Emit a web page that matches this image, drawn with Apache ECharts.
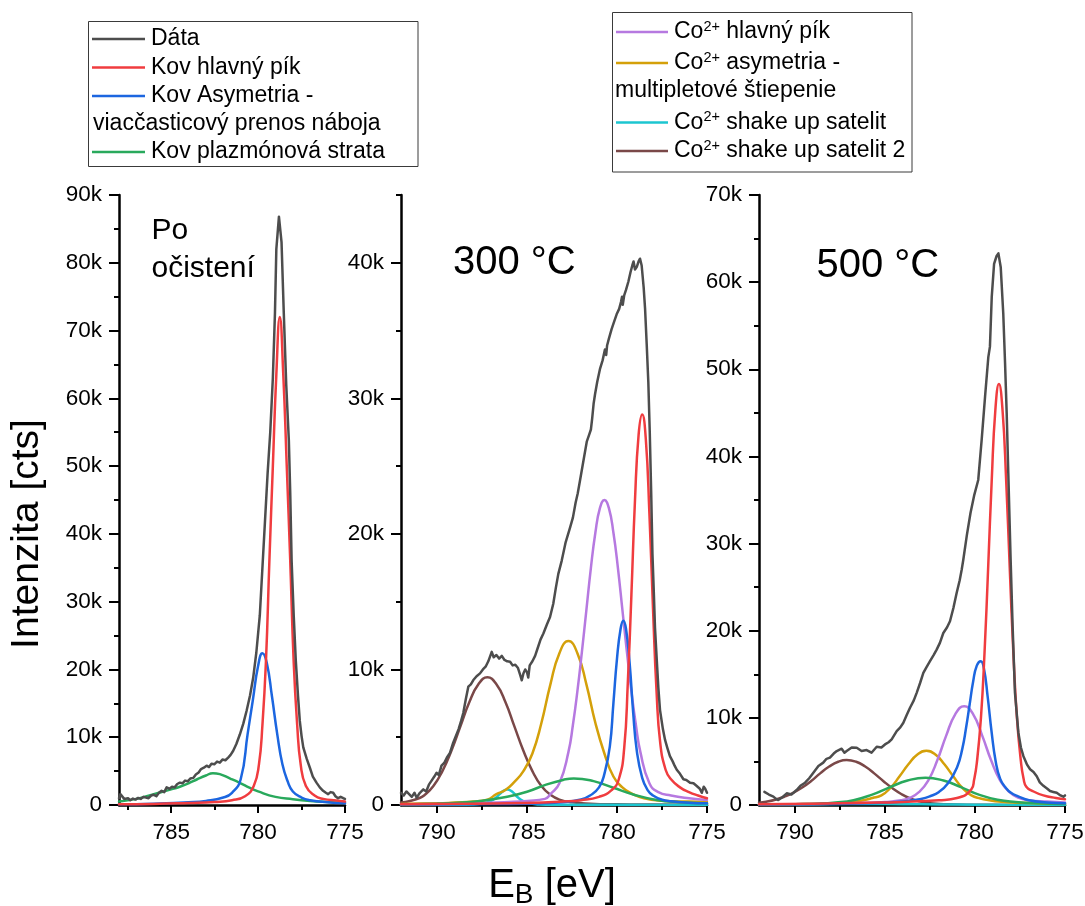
<!DOCTYPE html>
<html>
<head>
<meta charset="utf-8">
<script src="https://cdn.jsdelivr.net/npm/echarts@6/dist/echarts.min.js"></script>
<style>
  html, body { margin: 0; padding: 0; background: #ffffff; }
  #chart { width: 1085px; height: 906px; }
</style>
</head>
<body>
<div id="chart"></div>
<script>
// Co 2p3/2 XPS spectra: binding energy [eV] vs. intensity [kcts]
// Each series is a list of [E_B, intensity in thousands of counts].

// ---- Panel 1: "Po očistení" ----
const p1Data = [
  [788.0,1.0],[787.92,1.6],[787.82,1.4],[787.7,0.9],[787.6,0.75],[787.48,1.0],[787.35,0.7],[787.2,0.95],[787.05,0.8],
  [786.9,1.05],[786.75,0.9],[786.6,1.2],[786.45,1.1],[786.3,1.0],[786.15,1.4],[786.0,1.5],[785.85,1.3],[785.7,1.8],
  [785.55,2.1],[785.4,1.9],[785.26,2.6],[785.1,2.4],[784.95,2.7],[784.8,2.6],[784.65,3.1],[784.5,3.3],[784.35,3.2],
  [784.2,3.6],[784.05,3.5],[783.9,3.9],[783.73,4.0],[783.58,4.5],[783.42,4.8],[783.28,5.3],[783.12,5.5],[782.96,5.8],
  [782.82,5.6],[782.68,6.1],[782.52,6.0],[782.36,6.4],[782.2,6.25],[782.05,6.7],[781.88,6.6],[781.72,7.0],[781.58,7.4],
  [781.43,8.0],[781.25,9.0],[781.05,10.4],[780.85,12.0],[780.66,13.9],[780.46,16.2],[780.28,18.8],[780.1,22.5],
  [779.9,28],[779.75,35],[779.6,42],[779.45,49],[779.3,55],[779.15,63],[779.03,72.5],[778.95,82],[778.8,86.8],
  [778.65,83],[778.52,72.5],[778.38,62],[778.23,53.8],[778.15,46],[778.07,36],[777.95,28],[777.83,21.3],[777.7,16],
  [777.6,12.4],[777.5,10.2],[777.4,8.5],[777.2,6.8],[777.02,5.5],[776.85,4.2],[776.64,3.3],[776.45,2.6],[776.26,2.1],
  [776.1,1.8],[775.97,1.6],[775.83,1.9],[775.68,1.8],[775.55,1.3],[775.4,1.0],[775.25,1.2],[775.1,1.0],[775.0,0.9]
];
const p1MetalMain = [
  [788,0.1],[786,0.15],[784,0.3],[782.5,0.45],[781.5,0.7],[780.75,1.3],[780.25,2.8],[779.95,6],[779.75,11.8],
  [779.55,21],[779.35,36],[779.15,50],[778.95,63.5],[778.75,72],[778.55,63.5],[778.35,50],[778.15,36],[777.95,21],
  [777.75,11.8],[777.55,6],[777.25,2.8],[776.75,1.4],[776.25,0.9],[775.5,0.65],[775,0.5]
];
const p1MetalAsym = [
  [788,0.1],[786,0.2],[784,0.4],[783,0.6],[782,1.1],[781.5,1.8],[781,3.8],[780.6,10.5],[780.3,15.5],[780,20.5],
  [779.75,22.4],[779.5,21],[779.2,16],[778.9,10.5],[778.6,6],[778.3,3.5],[778,2],[777.5,1.1],[777,0.7],[776,0.4],[775,0.25]
];
const p1Plasmon = [
  [788,0.5],[787,0.9],[786,1.6],[785,2.3],[784.5,2.7],[784,3.2],[783.5,3.8],[783,4.35],[782.6,4.7],[782.2,4.55],
  [781.6,3.9],[781,3.2],[780.5,2.55],[780,2.0],[779,1.2],[778,0.85],[777,0.6],[776,0.45],[775,0.35]
];

// ---- Panel 2: 300 °C ----
const p2Data = [
  [792.0,0.9],[791.85,0.7],[791.7,1.0],[791.55,0.8],[791.4,0.6],[791.25,0.9],[791.13,0.54],[790.95,0.9],[790.76,1.15],
  [790.6,1.0],[790.45,1.5],[790.3,1.8],[790.15,2.1],[790.02,2.38],[789.9,2.2],[789.75,2.9],[789.6,3.1],[789.45,3.5],
  [789.28,3.84],[789.1,4.6],[788.95,5.1],[788.8,5.6],[788.66,6.2],[788.54,6.78],[788.4,7.8],[788.26,8.73],[788.12,8.9],
  [787.98,9.22],[787.8,9.5],[787.61,9.71],[787.45,10.0],[787.3,10.2],[787.15,10.6],[786.96,11.3],[786.85,10.9],
  [786.7,11.06],[786.55,10.8],[786.4,11.0],[786.25,10.7],[786.1,10.6],[785.94,10.57],[785.8,10.3],[785.65,10.35],
  [785.5,10.1],[785.38,9.6],[785.29,9.2],[785.2,9.7],[785.1,10.0],[785.0,9.8],[784.93,9.4],[784.85,10.3],[784.7,10.6],
  [784.55,11.0],[784.4,11.6],[784.25,12.2],[784.09,12.65],[783.9,13.3],[783.72,13.87],[783.54,14.85],[783.4,16.0],
  [783.26,17.05],[783.07,18.03],[782.85,19.4],[782.6,20.5],[782.45,21.2],[782.3,22.3],[782.18,23.0],[782.06,23.9],
  [781.85,25.5],[781.68,26.8],[781.55,27.3],[781.45,27.7],[781.38,28.5],[781.3,29.6],[781.22,30.3],[781.1,31.2],
  [780.94,32.2],[780.8,32.8],[780.67,33.6],[780.6,33.2],[780.55,33.9],[780.45,34.4],[780.3,35.1],[780.15,35.7],
  [780.02,36.2],[779.88,36.6],[779.78,37.1],[779.72,37.5],[779.68,36.9],[779.6,37.6],[779.5,38.0],[779.37,38.6],
  [779.25,39.3],[779.15,39.8],[779.08,40.1],[779.0,39.5],[778.9,39.7],[778.8,40.1],[778.72,40.3],[778.63,39.8],
  [778.52,38.2],[778.44,36.6],[778.35,34.0],[778.26,31.2],[778.18,27.5],[778.1,23.0],[778.03,18.5],[777.95,15.5],
  [777.89,13.1],[777.79,10.7],[777.7,8.6],[777.61,7.0],[777.45,5.6],[777.33,4.8],[777.2,4.2],[777.06,3.6],[776.9,3.2],
  [776.8,2.9],[776.68,2.6],[776.5,2.3],[776.31,1.9],[776.15,1.85],[775.94,1.64],[775.75,1.6],[775.57,1.4],[775.4,1.2],
  [775.29,0.9],[775.18,1.35],[775.1,1.2],[775.0,0.9]
];
const p2MetalMain = [
  [792,0.05],[788,0.1],[785,0.15],[783,0.25],[782,0.35],[781,0.6],[780.3,1.1],[779.9,1.9],[779.6,4.2],[779.4,9],
  [779.2,15.5],[779,22.5],[778.8,27.3],[778.6,28.8],[778.4,27],[778.2,21.5],[778,14.5],[777.8,8.3],[777.6,4.6],
  [777.3,2.6],[777,1.9],[776.5,1.3],[776,0.95],[775.5,0.7],[775,0.5]
];
const p2MetalAsym = [
  [792,0.03],[788,0.06],[785,0.1],[783,0.2],[782,0.4],[781.5,0.7],[781,1.3],[780.7,2.3],[780.4,4.3],[780.2,7.5],
  [780,10.8],[779.8,13],[779.65,13.6],[779.5,13],[779.3,10.5],[779.1,6.8],[778.9,4],[778.6,2],[778.3,1.1],[778,0.7],
  [777.5,0.4],[777,0.28],[776,0.17],[775,0.12]
];
const p2Plasmon = [
  [792,0.04],[790,0.1],[789,0.15],[787.6,0.3],[786.1,0.61],[785,0.98],[783.9,1.52],[783,1.85],[782.4,1.96],
  [781.3,1.76],[780.2,1.27],[779.1,0.78],[777.8,0.37],[776.5,0.2],[775,0.12]
];
const p2CoMain = [
  [792,0.05],[790,0.07],[788,0.12],[786,0.22],[785,0.3],[784,0.45],[783.7,0.8],[783.2,1.6],[782.7,3.9],[782.45,5.9],
  [782.2,8.4],[781.95,11.3],[781.7,14.4],[781.45,17.5],[781.2,20.1],[780.95,21.9],[780.7,22.5],[780.45,21.9],
  [780.2,20.1],[779.95,17.5],[779.7,14.4],[779.45,11.3],[779.2,8.4],[778.95,5.9],[778.7,3.9],[778.2,1.6],[777.7,0.95],
  [777,0.7],[776,0.5],[775,0.37]
];
const p2CoAsym = [
  [792,0.08],[790,0.12],[789,0.18],[788,0.25],[787.2,0.4],[786.7,0.8],[786.2,1.1],[785.7,1.7],[785.2,2.5],[784.7,3.8],
  [784.2,6.05],[783.7,8.9],[783.2,11.2],[782.7,12.1],[782.2,11.2],[781.7,8.9],[781.2,6.05],[780.7,3.8],[780.2,2.1],
  [779.7,1.3],[779.2,0.85],[778.5,0.5],[777.5,0.32],[776,0.25],[775,0.22]
];
const p2ShakeUp = [
  [792,0],[789,0.01],[788,0.03],[787.4,0.12],[787,0.3],[786.7,0.57],[786.4,0.95],[786.1,1.15],[785.8,0.95],[785.5,0.55],
  [785.2,0.28],[784.8,0.1],[784.3,0.04],[783.5,0.02],[780,0.01],[775,0]
];
const p2ShakeUp2 = [
  [792,0.18],[791.5,0.3],[791,0.5],[790.7,0.72],[790.2,1.4],[789.7,2.5],[789.2,4.0],[788.7,5.8],[788.2,7.6],[787.7,8.9],
  [787.2,9.42],[786.7,8.9],[786.2,7.6],[785.7,5.8],[785.2,4.0],[784.7,2.5],[784.2,1.4],[783.7,0.75],[783.2,0.4],
  [782.5,0.2],[781.5,0.1],[780,0.05],[778,0.03],[775,0.02]
];

// ---- Panel 3: 500 °C ----
const p3Data = [
  [791.7,1.5],[791.45,1.2],[791.2,0.96],[791.05,0.7],[790.93,0.57],[790.7,0.9],[790.46,1.34],[790.2,1.2],[789.91,1.72],
  [789.7,2.2],[789.44,2.56],[789.2,3.1],[788.98,3.71],[788.7,4.47],[788.43,4.86],[788.25,5.3],[788.06,5.43],[787.85,5.9],
  [787.68,6.19],[787.41,6.46],[787.25,6.0],[787.13,6.19],[786.85,6.6],[786.57,6.57],[786.3,6.2],[786.02,6.3],[785.75,6.0],
  [785.46,6.69],[785.2,6.6],[785.0,6.95],[784.8,7.2],[784.63,7.53],[784.35,8.48],[784.15,8.9],[783.98,9.44],[783.8,10.3],
  [783.61,11.16],[783.4,12.0],[783.24,12.87],[783.05,14.0],[782.87,15.16],[782.7,15.8],[782.5,16.5],[782.3,17.2],
  [782.13,17.83],[781.95,18.6],[781.76,19.74],[781.55,20.4],[781.39,21.08],[781.2,22.6],[781.02,24.33],[780.85,25.8],
  [780.74,27.0],[780.65,28.14],[780.45,31],[780.25,33.5],[780.05,35.5],[779.82,37.3],[779.63,41.9],[779.44,46.9],
  [779.26,51.4],[779.17,52.6],[779.07,58.3],[778.94,62.1],[778.8,63.0],[778.7,63.3],[778.57,61.7],[778.43,56.4],
  [778.33,50.7],[778.24,45.0],[778.15,38.1],[778.02,28.14],[777.91,20.5],[777.78,12.9],[777.59,8.3],[777.45,6.6],
  [777.31,5.6],[777.1,4.6],[776.94,4.1],[776.75,3.8],[776.57,3.3],[776.4,2.6],[776.2,2.2],[776.0,1.9],[775.83,1.6],
  [775.65,1.5],[775.46,1.4],[775.25,1.1],[775.09,0.95],[775.0,1.1]
];
const p3MetalMain = [
  [792,0.1],[789,0.15],[786,0.25],[784,0.35],[782,0.55],[781,0.8],[780.2,1.8],[780.05,2.9],[779.9,4.8],[779.67,10],
  [779.47,17.5],[779.27,27.2],[779.07,37.3],[778.87,45.3],[778.67,48.3],[778.47,45.3],[778.27,37.3],[778.07,27.2],
  [777.87,17.5],[777.67,10],[777.45,5],[777.3,3],[777.15,2.1],[776.8,1.6],[776.2,1.1],[775.5,0.8],[775,0.65]
];
const p3MetalAsym = [
  [792,0.05],[789,0.1],[786,0.2],[784,0.4],[783,0.7],[782.5,1.0],[782,1.5],[781.5,2.5],[781,4.3],[780.7,6.5],[780.5,8.8],
  [780.3,11.5],[780.1,14.2],[779.9,16],[779.68,16.5],[779.5,15.6],[779.3,12.5],[779.07,8.25],[778.85,5],[778.6,3.0],
  [778.3,2.0],[778,1.4],[777.6,1.0],[777,0.55],[776,0.3],[775,0.2]
];
const p3Plasmon = [
  [792,0.05],[790,0.1],[788.75,0.15],[787.75,0.28],[786.75,0.55],[785.75,1.16],[784.75,2.02],[783.75,2.81],[782.75,3.14],
  [781.75,2.81],[780.75,2.02],[779.75,1.16],[778.75,0.6],[777.75,0.35],[776.5,0.2],[775,0.12]
];
const p3CoMain = [
  [792,0.07],[790,0.1],[788,0.15],[786,0.25],[785,0.35],[784.1,0.55],[783.6,0.85],[783.1,1.5],[782.6,2.8],[782.1,5.1],
  [781.6,7.96],[781.1,10.4],[780.6,11.34],[780.1,10.4],[779.6,7.96],[779.1,5.1],[778.6,2.8],[778.1,1.5],[777.6,0.85],
  [777,0.55],[776,0.4],[775,0.3]
];
const p3CoAsym = [
  [792,0.07],[790,0.1],[788,0.15],[786.7,0.4],[786.2,0.55],[785.7,0.8],[785.2,1.1],[784.7,1.96],[784.2,3.26],[783.7,4.67],
  [783.2,5.8],[782.7,6.23],[782.2,5.8],[781.7,4.67],[781.2,3.26],[780.7,1.96],[780.2,1.1],[779.7,0.75],[779.2,0.55],
  [778.7,0.4],[777.5,0.25],[776,0.17],[775,0.15]
];
const p3ShakeUp = [
  [792,0.08],[789,0.1],[786,0.12],[784,0.1],[782,0.07],[780,0.04],[778,0.02],[775,0.01]
];
const p3ShakeUp2 = [
  [792,0.27],[791.6,0.38],[791.1,0.6],[790.6,0.95],[790.1,1.4],[789.6,2.0],[789.1,2.76],[788.6,3.63],[788.1,4.41],
  [787.6,4.96],[787.13,5.16],[786.6,4.96],[786.1,4.41],[785.6,3.63],[785.1,2.76],[784.6,1.94],[784.1,1.26],[783.6,0.75],
  [783.1,0.42],[782.5,0.2],[781.5,0.08],[780,0.03],[778,0.01],[775,0]
];

// ---- Axis ticks ----
const xTicksP1 = [775, 780, 785];
const xMinorP1 = [777.5, 782.5, 787.5];
const xTicksP23 = [775, 780, 785, 790];
const xMinorP23 = [777.5, 782.5, 787.5];
const yTicksP1 = [0, 10, 20, 30, 40, 50, 60, 70, 80, 90];
const yMinorP1 = [5, 15, 25, 35, 45, 55, 65, 75, 85];
const yTicksP2 = [0, 10, 20, 30, 40];
const yMinorP2 = [5, 15, 25, 35, 45];
const yTicksP3 = [0, 10, 20, 30, 40, 50, 60, 70];
const yMinorP3 = [5, 15, 25, 35, 45, 55, 65];

// ---- Series names and colours ----
const names = {
  data: 'Dáta',
  metalMain: 'Kov hlavný pík',
  metalAsym: 'Kov Asymetria - viacčasticový prenos náboja',
  plasmon: 'Kov plazmónová strata',
  coMain: 'Co²⁺ hlavný pík',
  coAsym: 'Co²⁺ asymetria - multipletové štiepenie',
  shakeUp: 'Co²⁺ shake up satelit',
  shakeUp2: 'Co²⁺ shake up satelit 2'
};
const colors = {
  data: '#4d4d4d',
  metalMain: '#f03c3f',
  metalAsym: '#1c66e0',
  plasmon: '#29a95c',
  coMain: '#b679e0',
  coAsym: '#d4a00a',
  shakeUp: '#1cc6d0',
  shakeUp2: '#7a4848'
};

const FONT = '"Liberation Sans", Arial, Helvetica, sans-serif';

const panels = [
  { xMin: 775, xMax: 788, yMax: 90, xTicks: xTicksP1, xMinor: xMinorP1, yTicks: yTicksP1, yMinor: yMinorP1,
    grid: { left: 119, top: 195, width: 226, height: 610 },
    curves: { plasmon: p1Plasmon, metalAsym: p1MetalAsym, metalMain: p1MetalMain, data: p1Data } },
  { xMin: 775, xMax: 792, yMax: 45, xTicks: xTicksP23, xMinor: xMinorP23, yTicks: yTicksP2, yMinor: yMinorP2,
    grid: { left: 401, top: 195, width: 306, height: 610 },
    curves: { shakeUp2: p2ShakeUp2, shakeUp: p2ShakeUp, coAsym: p2CoAsym, coMain: p2CoMain,
              plasmon: p2Plasmon, metalAsym: p2MetalAsym, metalMain: p2MetalMain, data: p2Data } },
  { xMin: 775, xMax: 792, yMax: 70, xTicks: xTicksP23, xMinor: xMinorP23, yTicks: yTicksP3, yMinor: yMinorP3,
    grid: { left: 759, top: 195, width: 306, height: 610 },
    curves: { shakeUp2: p3ShakeUp2, shakeUp: p3ShakeUp, coAsym: p3CoAsym, coMain: p3CoMain,
              plasmon: p3Plasmon, metalAsym: p3MetalAsym, metalMain: p3MetalMain, data: p3Data } }
];

const grids = [], xAxes = [], yAxes = [], series = [];
panels.forEach((p, i) => {
  grids.push(Object.assign({ outerBoundsMode: 'none', containLabel: false }, p.grid));
  // main x axis (line, long ticks, labels) + minor x axis (short ticks)
  xAxes.push({
    type: 'value', gridIndex: i, min: p.xMin, max: p.xMax, inverse: true, position: 'bottom',
    axisLine: { show: true, onZero: false, lineStyle: { color: '#000', width: 2.5 } },
    axisTick: { show: true, inside: false, length: 8, lineStyle: { color: '#000', width: 2 }, customValues: p.xTicks },
    axisLabel: { show: true, margin: 16, fontSize: 22.5, fontFamily: FONT, color: '#000', customValues: p.xTicks },
    splitLine: { show: false }
  });
  xAxes.push({
    type: 'value', gridIndex: i, min: p.xMin, max: p.xMax, inverse: true, position: 'bottom',
    axisLine: { show: false, onZero: false },
    axisTick: { show: true, inside: false, length: 5, lineStyle: { color: '#000', width: 2 }, customValues: p.xMinor },
    axisLabel: { show: false }, splitLine: { show: false }
  });
  yAxes.push({
    type: 'value', gridIndex: i, min: 0, max: p.yMax, position: 'left',
    axisLine: { show: true, onZero: false, lineStyle: { color: '#000', width: 2.5 } },
    axisTick: { show: true, inside: false, length: 10, lineStyle: { color: '#000', width: 2 }, customValues: p.yTicks },
    axisLabel: { show: true, margin: 17, fontSize: 22.5, fontFamily: FONT, color: '#000', customValues: p.yTicks,
                 formatter: v => (v === 0 ? '0' : v + 'k') },
    splitLine: { show: false }
  });
  yAxes.push({
    type: 'value', gridIndex: i, min: 0, max: p.yMax, position: 'left',
    axisLine: { show: false, onZero: false },
    axisTick: { show: true, inside: false, length: 5, lineStyle: { color: '#000', width: 2 }, customValues: p.yMinor },
    axisLabel: { show: false }, splitLine: { show: false }
  });
  Object.keys(p.curves).forEach((key, k) => {
    const isData = key === 'data';
    series.push({
      type: 'line', name: names[key], xAxisIndex: 2 * i, yAxisIndex: 2 * i,
      data: p.curves[key], showSymbol: false, symbol: 'none',
      smooth: isData ? false : 0.5,
      lineStyle: { color: colors[key], width: 2.5, join: 'round', cap: 'round' },
      itemStyle: { color: colors[key] }, z: 2 + k, silent: true, animation: false
    });
  });
});

// ---- Legend boxes and annotations ----
const legend1 = [
  { key: 'data', lines: ['Dáta'], y: [39] },
  { key: 'metalMain', lines: ['Kov hlavný pík'], y: [67.5] },
  { key: 'metalAsym', lines: ['Kov Asymetria -', 'viacčasticový prenos náboja'], y: [96, 123.5] },
  { key: 'plasmon', lines: ['Kov plazmónová strata'], y: [152] }
];
const legend2 = [
  { key: 'coMain', lines: ['Co{sup|2+} hlavný pík'], y: [32] },
  { key: 'coAsym', lines: ['Co{sup|2+} asymetria -', 'multipletové štiepenie'], y: [63, 91] },
  { key: 'shakeUp', lines: ['Co{sup|2+} shake up satelit'], y: [122.5] },
  { key: 'shakeUp2', lines: ['Co{sup|2+} shake up satelit 2'], y: [151] }
];

const graphics = [];
function legendBox(items, box, lineX1, lineX2, textX, wrapX) {
  graphics.push({ type: 'rect', shape: box, style: { fill: '#fff', stroke: '#3a3a3a', lineWidth: 1 }, z: 10 });
  items.forEach(it => {
    graphics.push({ type: 'line', shape: { x1: lineX1, y1: it.y[0], x2: lineX2, y2: it.y[0] },
      style: { stroke: colors[it.key], lineWidth: 2.5 }, z: 11 });
    it.lines.forEach((t, j) => {
      graphics.push({ type: 'text', z: 11, style: {
        text: t, x: j === 0 ? textX : wrapX, y: it.y[j], textAlign: 'left', textVerticalAlign: 'middle',
        fontSize: 23, fontFamily: FONT, fill: '#000', lineHeight: 26,
        rich: { sup: { fontSize: 14.5, lineHeight: 16, verticalAlign: 'top', fontFamily: FONT, fill: '#000' } }
      } });
    });
  });
}
legendBox(legend1, { x: 88.5, y: 21.5, width: 329.5, height: 145 }, 92, 145, 151, 93);
legendBox(legend2, { x: 612.5, y: 12.5, width: 299.5, height: 159.5 }, 616, 668, 674, 615);

// panel captions
graphics.push({ type: 'text', style: { text: 'Po', x: 151.5, y: 231, fontSize: 30, fontFamily: FONT, fill: '#000', textVerticalAlign: 'middle' } });
graphics.push({ type: 'text', style: { text: 'očistení', x: 151.5, y: 268.5, fontSize: 30, fontFamily: FONT, fill: '#000', textVerticalAlign: 'middle' } });
graphics.push({ type: 'text', style: { text: '300 °C', x: 453, y: 262.5, fontSize: 40, fontFamily: FONT, fill: '#000', textVerticalAlign: 'middle' } });
graphics.push({ type: 'text', style: { text: '500 °C', x: 816.5, y: 265.5, fontSize: 40, fontFamily: FONT, fill: '#000', textVerticalAlign: 'middle' } });

// shared axis titles
graphics.push({ type: 'text', x: 27.5, y: 534, rotation: Math.PI / 2,
  style: { text: 'Intenzita [cts]', x: 0, y: 0, fontSize: 39, fontFamily: FONT, fill: '#000', textAlign: 'center', textVerticalAlign: 'middle' } });
graphics.push({ type: 'text',
  style: { text: 'E{sub|B} [eV]', x: 552, y: 885.5, fontSize: 40, fontFamily: FONT, fill: '#000', textAlign: 'center', textVerticalAlign: 'middle',
    lineHeight: 48, rich: { sub: { fontSize: 28, lineHeight: 16, verticalAlign: 'bottom', fontFamily: FONT, fill: '#000' } } } });

const chart = echarts.init(document.getElementById('chart'), null, { renderer: 'canvas' });
chart.setOption({
  backgroundColor: '#ffffff',
  animation: false,
  grid: grids,
  xAxis: xAxes,
  yAxis: yAxes,
  series: series,
  graphic: graphics
});
</script>
</body>
</html>
